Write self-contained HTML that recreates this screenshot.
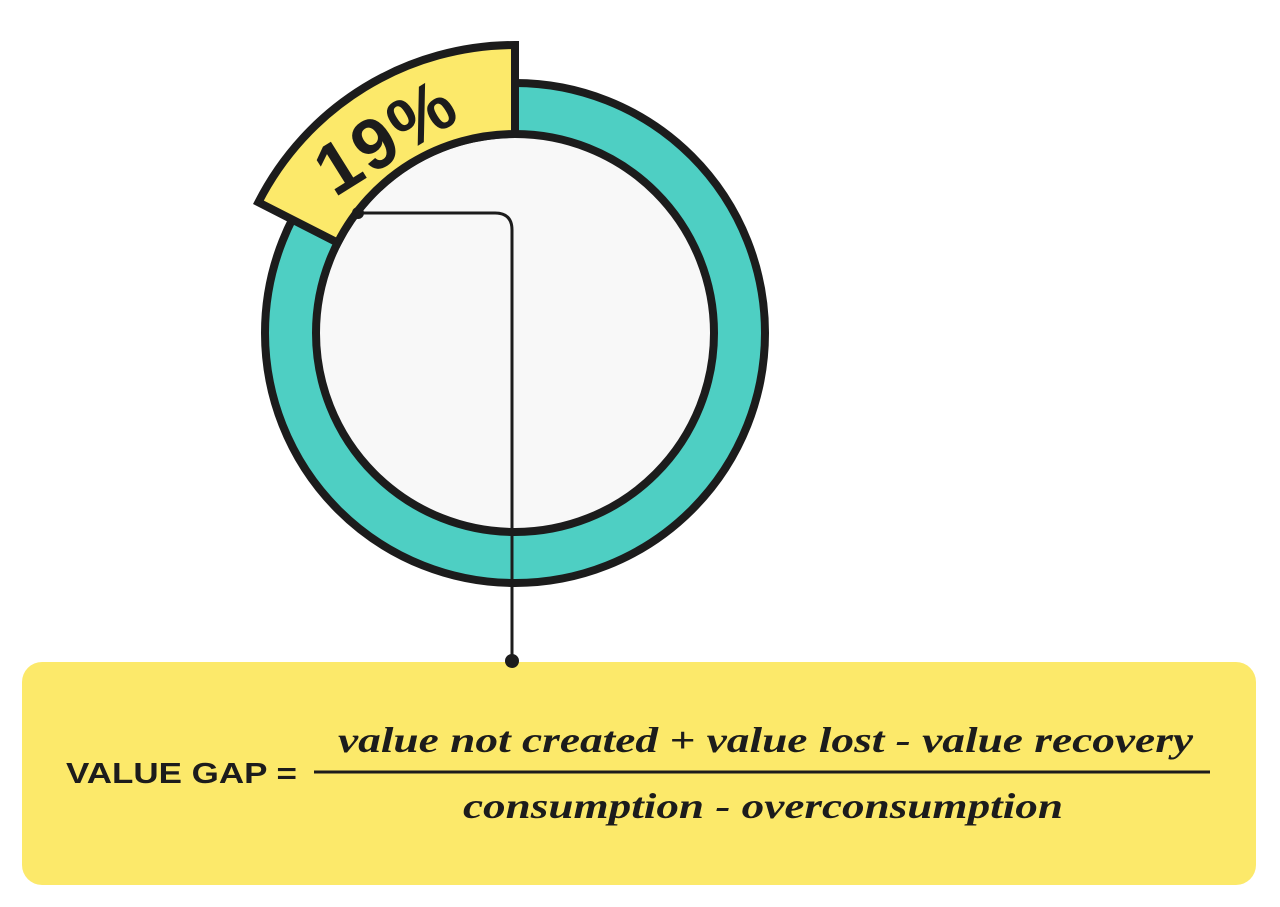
<!DOCTYPE html>
<html><head><meta charset="utf-8"><style>
html,body{margin:0;padding:0;background:#fff;}
svg{display:block;}
</style></head><body>
<svg width="1280" height="907" viewBox="0 0 1280 907" xmlns="http://www.w3.org/2000/svg">
<rect width="1280" height="907" fill="#ffffff"/>
<circle cx="515" cy="333" r="225" fill="none" stroke="#4ecfc3" stroke-width="50"/>
<circle cx="515" cy="333" r="250" fill="none" stroke="#1c1c1c" stroke-width="8"/>
<circle cx="515" cy="333" r="199" fill="#f8f8f8" stroke="#1c1c1c" stroke-width="8"/>
<path d="M 515 45 L 515 134 A 199 199 0 0 0 337.7 242.7 L 258.4 202.3 A 288 288 0 0 1 515 45 Z" fill="#fce96a" stroke="#1c1c1c" stroke-width="8" stroke-linejoin="miter"/>
<text x="0" y="0" transform="translate(388,142) rotate(-32)" text-anchor="middle" dominant-baseline="middle" font-family="Liberation Sans, sans-serif" font-weight="bold" font-size="72" fill="#1c1c1c" textLength="150" lengthAdjust="spacing">19%</text>
<path d="M 358 213 L 495 213 Q 512 213 512 230 L 512 661" fill="none" stroke="#1c1c1c" stroke-width="3"/>
<circle cx="358" cy="213" r="6" fill="#1c1c1c"/>
<rect x="22" y="662" width="1234" height="223" rx="20" fill="#fce96a"/>
<circle cx="512" cy="661" r="7" fill="#1c1c1c"/>
<text x="66" y="783" font-family="Liberation Sans, sans-serif" font-weight="bold" font-size="29" fill="#1c1c1c" textLength="231" lengthAdjust="spacingAndGlyphs">VALUE GAP =</text>
<line x1="314" y1="772" x2="1210" y2="772" stroke="#1c1c1c" stroke-width="3"/>
<text x="338" y="752" font-family="Liberation Serif, serif" font-style="italic" font-weight="bold" font-size="36" fill="#1c1c1c" textLength="855" lengthAdjust="spacingAndGlyphs">value not created + value lost - value recovery</text>
<text x="463" y="818" font-family="Liberation Serif, serif" font-style="italic" font-weight="bold" font-size="36" fill="#1c1c1c" textLength="600" lengthAdjust="spacingAndGlyphs">consumption - overconsumption</text>
</svg>
</body></html>
